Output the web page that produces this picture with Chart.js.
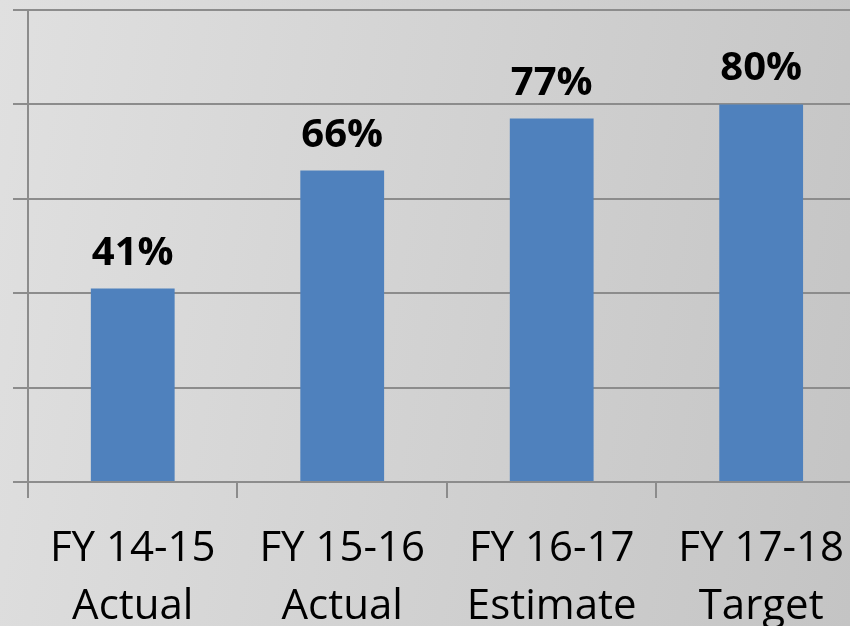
<!DOCTYPE html>
<html lang="en">
<head>
  <meta charset="UTF-8" />
  <title>FY Percentages</title>
  <script src="https://cdn.jsdelivr.net/npm/chart.js"></script>
  <style>
    html, body {
      margin: 0;
      padding: 0;
      width: 850px;
      height: 626px;
      overflow: hidden;
      background: linear-gradient(100deg, #e0e0e0 0%, #d2d2d2 50%, #c4c4c4 100%);
    }
    #wrap {
      position: absolute;
      left: 0;
      top: 0;
      width: 866px;
      height: 658px;
    }
  </style>
</head>
<body>
  <div id="wrap"><canvas id="grafico"></canvas></div>

  <script>
    const categorias = [["FY 14-15", "Actual"], ["FY 15-16", "Actual"], ["FY 16-17", "Estimate"], ["FY 17-18", "Target"]];
    const valores = [41, 66, 77, 80];
    const rotulos = ["41%", "66%", "77%", "80%"];

    // rótulos acima das barras
    const rotulosPlugin = {
      id: "rotulos",
      afterDatasetsDraw(chart) {
        const ctx = chart.ctx;
        const meta = chart.getDatasetMeta(0);
        ctx.save();
        ctx.font = "bold 40px 'Open Sans'";
        ctx.fillStyle = "#000";
        ctx.textAlign = "center";
        ctx.textBaseline = "alphabetic";
        meta.data.forEach((bar, i) => {
          ctx.fillText(rotulos[i], bar.x, bar.y - 24);
        });
        ctx.restore();
      }
    };

    const corLinha = "#8c8c8c";

    new Chart(document.getElementById("grafico"), {
      type: "bar",
      data: {
        labels: categorias,
        datasets: [{
          data: valores,
          backgroundColor: "#4f81bd",
          borderWidth: 0,
          categoryPercentage: 1,
          barPercentage: 0.4
        }]
      },
      options: {
        responsive: true,
        maintainAspectRatio: false,
        animation: false,
        layout: { padding: { left: 13, top: 10, right: 0, bottom: 0 } },
        plugins: {
          legend: { display: false },
          tooltip: { enabled: false }
        },
        scales: {
          x: {
            grid: {
              drawOnChartArea: false,
              drawTicks: true,
              tickLength: 16,
              color: corLinha,
              lineWidth: 2
            },
            border: { color: corLinha, width: 2 },
            ticks: {
              color: "#000",
              padding: 22,
              maxRotation: 0,
              font: { family: "'Open Sans'", size: 42, lineHeight: 1.38 }
            }
          },
          y: {
            min: 0,
            max: 100,
            grid: {
              color: corLinha,
              lineWidth: 2,
              tickLength: 15
            },
            border: { color: corLinha, width: 2 },
            ticks: { display: false, stepSize: 20 }
          }
        }
      },
      plugins: [rotulosPlugin]
    });
  </script>
</body>
</html>
